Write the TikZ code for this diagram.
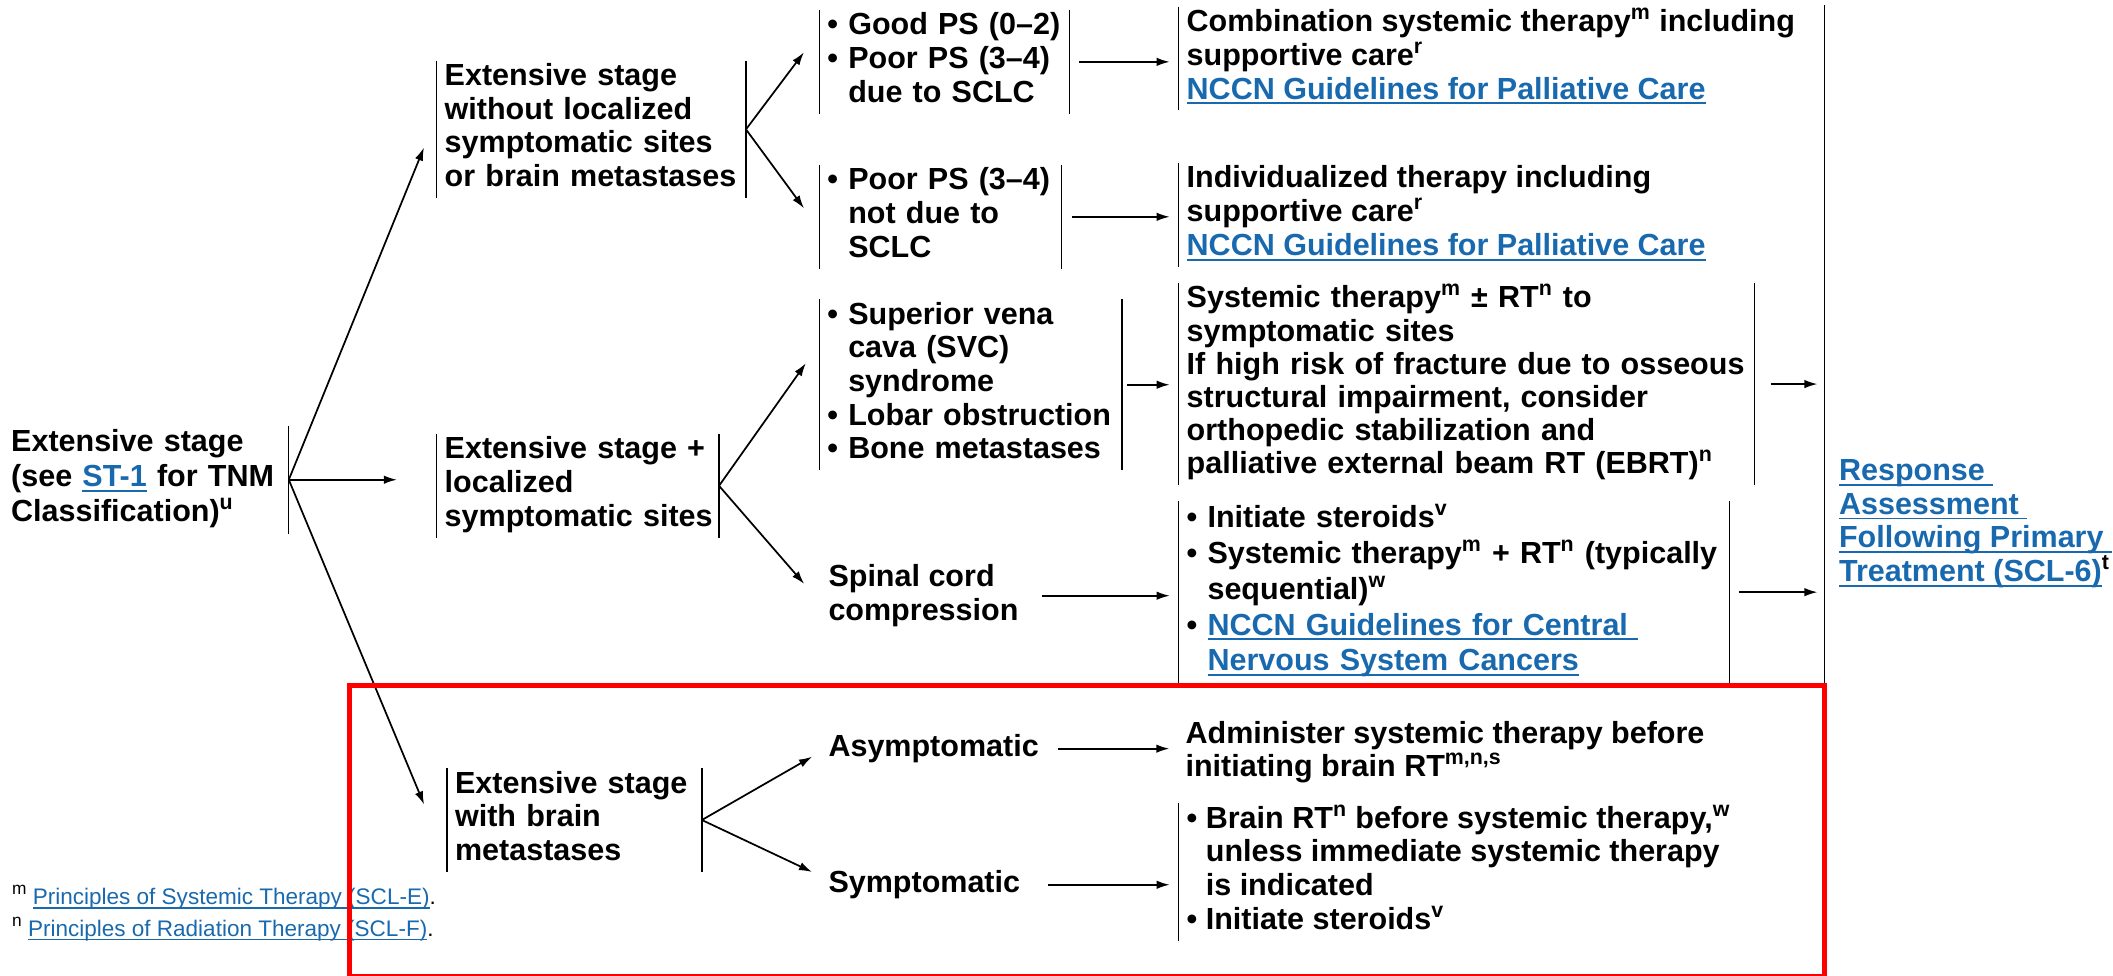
\documentclass[tikz,border=0pt]{standalone}
\usepackage{fontspec}
\setmainfont{Liberation Sans}
\usetikzlibrary{arrows.meta}
\definecolor{nccnblue}{RGB}{25,105,175}
\newsavebox{\lnkbox}
\newcommand{\lnk}[1]{\textcolor{nccnblue}{\sbox{\lnkbox}{#1}\rlap{\rule[-0.17em]{\wd\lnkbox}{0.06em}}\usebox{\lnkbox}}}
\newcommand{\hng}{\phantom{•\ }}
\newcommand{\rows}[1]{\begin{tabular}{@{}l@{}}#1\end{tabular}}
\newcommand{\fnmark}[1]{\raisebox{0.45em}{\fontsize{9}{9}\selectfont #1}}
\hyphenpenalty=10000
\exhyphenpenalty=10000

\begin{document}
\begin{tikzpicture}[x=0.7pt, y=-0.7pt,
  txt/.style={anchor=north west, align=left, inner xsep=4pt, inner ysep=0.5pt,
    font=\bfseries\fontsize{15.85}{17.5}\selectfont},
  bar/.style={line width=0.7pt},
  arr/.style={-{Latex[length=6.8pt,width=4.4pt]}, line width=0.9pt}]

  \useasboundingbox (0,0) rectangle (1568,724);

  %% first column
  \node[txt, text width=140pt, font=\bfseries\fontsize{15.85}{18.2}\selectfont] (stage) at (2.3,316)
    {\rows{Extensive stage\\(see \lnk{ST-1} for TNM\\Classification)\textsuperscript{u}}};

  %% second column
  \node[txt, text width=152.3pt] (noloc) at (324,45)
    {\rows{Extensive stage\\without localized\\symptomatic sites\\or brain metastases}};
  \node[txt, text width=138.3pt] (loc) at (324,322)
    {\rows{Extensive stage +\\localized\\symptomatic sites}};
  \node[txt, text width=124pt] (brain) at (331.7,570)
    {\rows{Extensive stage\\with brain\\metastases}};

  %% third column
  \node[txt, text width=121.5pt] (goodps) at (608,7.4)
    {\rows{• Good PS (0–2)\\• Poor PS (3–4)\\\hng due to SCLC}};
  \node[txt, text width=117.3pt] (poorps) at (608,122.4)
    {\rows{• Poor PS (3–4)\\\hng not due to\\\hng SCLC}};
  \node[txt, text width=148.8pt] (svc) at (608,222)
    {\rows{• Superior vena\\\hng cava (SVC)\\\hng syndrome\\• Lobar obstruction\\• Bone metastases}};
  \node[txt] (cord) at (608.8,418) {Spinal cord\\compression};
  \node[txt] (asym) at (608.8,544) {Asymptomatic};
  \node[txt] (sym) at (608.8,645) {Symptomatic};

  %% treatments
  \node[txt] (comb) at (874.6,5)
    {\rows{Combination systemic therapy\textsuperscript{m} including\\supportive care\textsuperscript{r}\\\lnk{NCCN Guidelines for Palliative Care}}};
  \node[txt] (indiv) at (874.6,121)
    {\rows{Individualized therapy including\\supportive care\textsuperscript{r}\\\lnk{NCCN Guidelines for Palliative Care}}};
  \node[txt, text width=290.9pt, font=\bfseries\fontsize{15.85}{17.2}\selectfont] (sysrt) at (874.6,210)
    {\rows{Systemic therapy\textsuperscript{m} ± RT\textsuperscript{n} to\\symptomatic sites\\If high risk of fracture due to osseous\\structural impairment, consider\\orthopedic stabilization and\\palliative external beam RT (EBRT)\textsuperscript{n}}};
  \node[txt, text width=277.9pt, font=\bfseries\fontsize{15.85}{18.6}\selectfont] (steroid) at (874.6,372)
    {\rows{• Initiate steroids\textsuperscript{v}\\• Systemic therapy\textsuperscript{m} + RT\textsuperscript{n} (typically\\\hng sequential)\textsuperscript{w}\\• \lnk{NCCN Guidelines for Central\ }\\\hng \lnk{Nervous System Cancers}}};
  \node[txt] (adm) at (873.8,534)
    {Administer systemic therapy before\\initiating brain RT\textsuperscript{m,n,s}};
  \node[txt] (brt) at (874.6,596)
    {\rows{• Brain RT\textsuperscript{n} before systemic therapy,\textsuperscript{w}\\\hng unless immediate systemic therapy\\\hng is indicated\\• Initiate steroids\textsuperscript{v}}};

  %% last column
  \node[txt] (resp) at (1358.7,340)
    {\lnk{Response\ }\\\lnk{Assessment\ }\\\lnk{Following Primary\ }\\\lnk{Treatment (SCL-6)}\textsuperscript{t}};
  \coordinate (rtop) at (1354,4);
  \coordinate (rbot) at (1354,509);
  \draw[bar] (rtop) -- (rbot);

  %% footnotes
  \node[txt, font=\fontsize{11.7}{16.4}\selectfont] (fn) at (3,656)
    {\fnmark{m} \lnk{Principles of Systemic Therapy (SCL-E)}.\\\fnmark{n} \lnk{Principles of Radiation Therapy (SCL-F)}.};

  %% side bars
  \foreach \n in {noloc,loc,brain,goodps,poorps,svc,comb,indiv,sysrt,steroid,brt}
    \draw[bar] (\n.north west) -- (\n.south west);
  \foreach \n in {stage,noloc,loc,brain,goodps,poorps,svc,sysrt,steroid}
    \draw[bar] (\n.north east) -- (\n.south east);

  %% arrows
  \draw[arr] (stage.east) -- ([shift={(-9.4,13.5)}]noloc.west);
  \draw[arr, shorten >=20.6pt] (stage.east) -- (stage.east -| loc.west);
  \draw[arr] (stage.east) -- ([shift={(-17,-11.5)}]brain.west);

  \draw[arr] (noloc.east) -- ([shift={(-11.4,-7.1)}]goodps.west);
  \draw[arr] (noloc.east) -- ([shift={(-11.4,-6.3)}]poorps.west);
  \draw[arr] (loc.east) -- ([shift={(-10,-16)}]svc.west);
  \draw[arr] (loc.east) -- ([shift={(-12,-8.7)}]cord.west);
  \draw[arr] (brain.east) -- ([shift={(-6.2,6)}]asym.west);
  \draw[arr] (brain.east) -- ([shift={(-6.2,-9.5)}]sym.west);

  \draw[arr, shorten <=5pt, shorten >=4.6pt] (goodps.east) -- (goodps.east -| comb.west);
  \draw[arr, shorten <=5.6pt, shorten >=4.6pt] (poorps.east) -- (poorps.east -| indiv.west);
  \draw[arr, shorten <=2.8pt, shorten >=4.6pt] (svc.east) -- (svc.east -| sysrt.west);
  \draw[arr, shorten <=8pt, shorten >=4.6pt] (cord.east) -- (cord.east -| steroid.west);
  \draw[arr, shorten <=5.6pt, shorten >=4.2pt] (asym.east) -- (asym.east -| adm.west);
  \draw[arr, shorten <=10.5pt, shorten >=4.6pt] (sym.east) -- (sym.east -| brt.west);

  \draw[arr, shorten <=8.3pt, shorten >=3.7pt] (sysrt.east) -- (sysrt.east -| rtop);
  \draw[arr, shorten <=4.7pt, shorten >=3.7pt] (steroid.east) -- (steroid.east -| rtop);

  %% highlight box
  \draw[red, line width=2.6pt] (259,509) rectangle (1354,725);
\end{tikzpicture}
\end{document}
